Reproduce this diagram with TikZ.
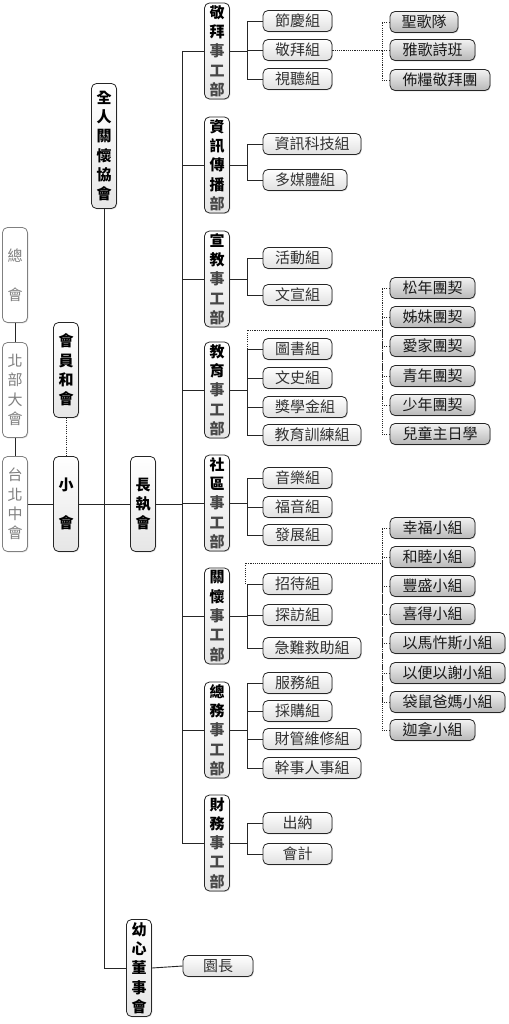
\documentclass[tikz,border=0pt]{standalone}
\usepackage{fontspec}
\setmainfont{Noto Sans CJK TC}
\usetikzlibrary{shadows}
\newcommand\vB[1]{\textbf{#1}}
\newcommand\vR[1]{\textcolor{black!72}{#1}}
\begin{document}
\begin{tikzpicture}[x=1pt,y=-1pt,
  box/.style={draw=black!85, line width=0.8pt, rounded corners=5pt, inner sep=0pt,
    drop shadow={shadow xshift=0.8pt, shadow yshift=-0.9pt, opacity=0.3}},
  lvtwo/.style={box, top color=white, bottom color=black!12, minimum height=21pt,
    text=black!80, font=\fontsize{15}{16}\selectfont},
  lvthree/.style={box, top color=black!5, bottom color=black!28, minimum height=21pt,
    text=black!90, font=\fontsize{15}{16}\selectfont},
  vbox/.style={box, top color=white, bottom color=black!10, minimum width=25pt,
    minimum height=95pt, align=center, font=\fontsize{15}{19.3}\selectfont\bfseries},
  gbox/.style={vbox, draw=black!50, top color=white, bottom color=white, text=black!50,
    font=\fontsize{15}{19.3}\selectfont},
  ln/.style={draw=black!85, line width=0.9pt},
  dl/.style={ln, dash pattern=on 1.1pt off 1.1pt},
  wa/.style={minimum width=69pt}, wb/.style={minimum width=84pt},
  wc/.style={minimum width=98pt}, wd/.style={minimum width=115pt},
  we/.style={minimum width=100pt}
]
\useasboundingbox[fill=white] (0,0) rectangle (508,1024);
\coordinate (T) at (182,0);
\coordinate (B) at (247,0);
\coordinate (C) at (382,0);

% left column
\node[gbox] (zh) at (15,275) {總\\[19.3pt]會};
\node[gbox] (bb) at (15,390) {北\\部\\大\\會};
\node[gbox] (tb) at (15,504) {台\\北\\中\\會};
\node[vbox] (hy) at (66,370) {會\\員\\和\\會};
\node[vbox] (xh) at (66,504) {小\\[19.3pt]會};
\node[vbox] (cz) at (143,504) {長\\執\\會};
\node[vbox, minimum height=125pt] (qr) at (104,146) {全\\人\\關\\懷\\協\\會};
\node[vbox, minimum height=97pt] (yx) at (139,968) {幼\\心\\董\\事\\會};
\node[lvtwo, minimum width=70pt] (yz) at (218,966) {園長};

% departments
\node[vbox, minimum height=96pt] (d1) at (217,51) {\vB{敬}\\\vB{拜}\\\vR{事}\\\vR{工}\\\vR{部}};
\node[vbox, minimum height=96pt] (d2) at (217,165) {\vB{資}\\\vB{訊}\\\vB{傳}\\\vB{播}\\\vR{部}};
\node[vbox, minimum height=96pt] (d3) at (217,279) {\vB{宣}\\\vB{教}\\\vR{事}\\\vR{工}\\\vR{部}};
\node[vbox, minimum height=96pt] (d4) at (217,390) {\vB{教}\\\vB{育}\\\vR{事}\\\vR{工}\\\vR{部}};
\node[vbox, minimum height=96pt] (d5) at (217,503) {\vB{社}\\\vB{區}\\\vR{事}\\\vR{工}\\\vR{部}};
\node[vbox, minimum height=96pt] (d6) at (217,616) {\vB{關}\\\vB{懷}\\\vR{事}\\\vR{工}\\\vR{部}};
\node[vbox, minimum height=96pt] (d7) at (217,730) {\vB{總}\\\vB{務}\\\vR{事}\\\vR{工}\\\vR{部}};
\node[vbox, minimum height=96pt] (d8) at (217,843) {\vB{財}\\\vB{務}\\\vR{事}\\\vR{工}\\\vR{部}};

% level two
\node[lvtwo, wa] (a11) at (297.5,21) {節慶組};
\node[lvtwo, wa] (a12) at (297.5,50) {敬拜組};
\node[lvtwo, wa] (a13) at (297.5,79) {視聽組};
\node[lvtwo, wc] (a21) at (312,144) {資訊科技組};
\node[lvtwo, wb] (a22) at (305,180) {多媒體組};
\node[lvtwo, wa] (a31) at (297.5,258) {活動組};
\node[lvtwo, wa] (a32) at (297.5,295) {文宣組};
\node[lvtwo, wa] (a41) at (297.5,349) {圖書組};
\node[lvtwo, wa] (a42) at (297.5,378) {文史組};
\node[lvtwo, wb] (a43) at (305,407) {獎學金組};
\node[lvtwo, wc] (a44) at (312,435) {教育訓練組};
\node[lvtwo, wa] (a51) at (297.5,478) {音樂組};
\node[lvtwo, wa] (a52) at (297.5,507) {福音組};
\node[lvtwo, wa] (a53) at (297.5,535) {發展組};
\node[lvtwo, wa] (a61) at (297.5,584) {招待組};
\node[lvtwo, wa] (a62) at (297.5,615) {探訪組};
\node[lvtwo, wc] (a63) at (312,648) {急難救助組};
\node[lvtwo, wa] (a71) at (297.5,683) {服務組};
\node[lvtwo, wa] (a72) at (297.5,711) {採購組};
\node[lvtwo, wc] (a73) at (312,739) {財管維修組};
\node[lvtwo, wc] (a74) at (312,768) {幹事人事組};
\node[lvtwo, wa] (a81) at (297.5,823) {出納};
\node[lvtwo, wa] (a82) at (297.5,854) {會計};

% level three
\node[lvthree, minimum width=68pt] (c11) at (424,22) {聖歌隊};
\node[lvthree, minimum width=85pt] (c12) at (432.5,50) {雅歌詩班};
\node[lvthree, we] (c13) at (440,80) {佈糧敬拜團};
\node[lvthree, minimum width=85pt] (c41) at (432.5,288) {松年團契};
\node[lvthree, minimum width=85pt] (c42) at (432.5,317) {姊妹團契};
\node[lvthree, minimum width=85pt] (c43) at (432.5,346) {愛家團契};
\node[lvthree, minimum width=85pt] (c44) at (432.5,376) {青年團契};
\node[lvthree, minimum width=85pt] (c45) at (432.5,405) {少年團契};
\node[lvthree, we] (c46) at (440,434) {兒童主日學};
\node[lvthree, minimum width=85pt] (c61) at (432.5,528) {幸福小組};
\node[lvthree, minimum width=85pt] (c62) at (432.5,557) {和睦小組};
\node[lvthree, minimum width=85pt] (c63) at (432.5,586) {豐盛小組};
\node[lvthree, minimum width=85pt] (c64) at (432.5,614) {喜得小組};
\node[lvthree, wd] (c65) at (447.5,643) {以馬忤斯小組};
\node[lvthree, wd] (c66) at (447.5,673) {以便以謝小組};
\node[lvthree, wd] (c67) at (447.5,702) {袋鼠爸媽小組};
\node[lvthree, minimum width=85pt] (c68) at (432.5,730) {迦拿小組};

% left connectors
\draw[ln] (zh.south) -- (bb.north);
\draw[ln] (bb.south) -- (tb.north);
\draw[ln] (tb.east) -- (xh.west);
\draw[dl] (hy.south) -- (xh.north);
\draw[ln] (xh.east) -- (cz.west);
\draw[ln] (qr.south) |- (yx.west);
\draw[ln] (yx.east) -- (yz.west);
\draw[ln] (cz.east) -- (cz.east -| T);
\draw[ln] (d1.west -| T) -- (d8.west -| T);
\foreach \d in {d1,d2,d3,d4,d5,d6,d7,d8}{\draw[ln] (\d.west -| T) -- (\d.west);}

% department branches
\foreach \d/\list in {d1/{a11,a12,a13}, d2/{a21,a22}, d3/{a31,a32}, d4/{a41,a42,a43,a44},
  d5/{a51,a52,a53}, d6/{a61,a62,a63}, d7/{a71,a72,a73,a74}, d8/{a81,a82}}{
  \draw[ln] (\d.east) -- (\d.east -| B);
  \foreach \c in \list {\draw[ln] (\c.west) -| (\d.east -| B);}
}

% level three connectors
\draw[dl] (a12.east) -- (a12.east -| C);
\foreach \c in {c11,c12,c13}{\draw[dl] (\c.west) -| (a12.east -| C);}
\coordinate (e1) at (247,330);
\draw[dl] (a41.west -| B) -- (e1) -- (e1 -| C);
\foreach \c in {c41,c42,c43,c44,c45,c46}{\draw[dl] (\c.west) -| (e1 -| C);}
\coordinate (e2) at (245,563);
\draw[dl] (a61.west -| e2) -- (e2) -- (e2 -| C);
\foreach \c in {c61,c62,c63,c64,c65,c66,c67,c68}{\draw[dl] (\c.west) -| (e2 -| C);}
\end{tikzpicture}
\end{document}
